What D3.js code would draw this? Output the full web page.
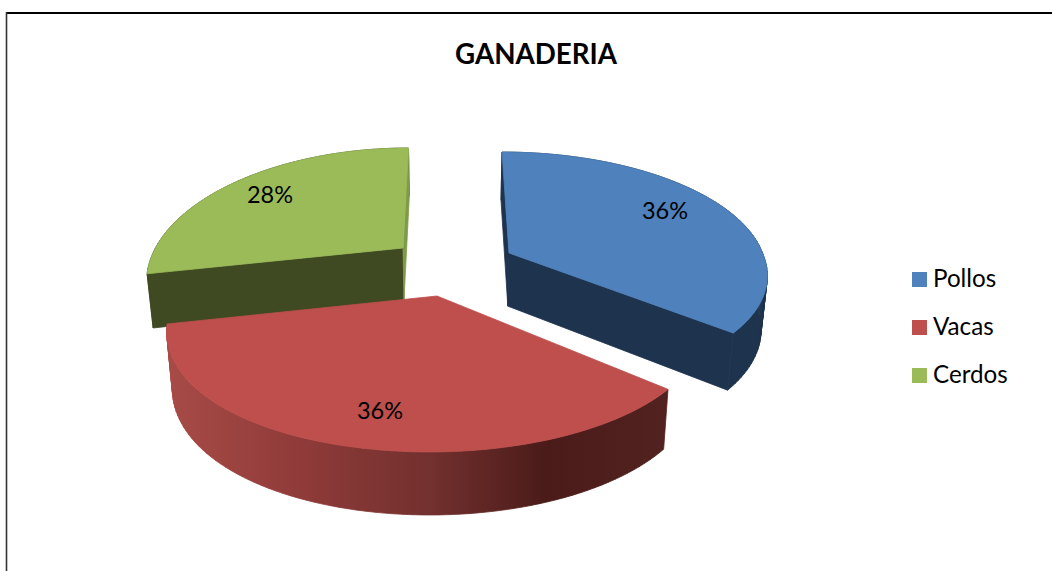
<!DOCTYPE html>
<html>
<head>
<meta charset="utf-8">
<script src="https://d3js.org/d3.v7.min.js"></script>
<style>
  html, body { margin: 0; padding: 0; background: #fff; overflow: hidden; }
  text { font-family: Lato, "Open Sans", sans-serif; fill: #000; }
</style>
</head>
<body>
<div id="chart"></div>
<script>
var width = 1052;
var height = 571;

var categories = ["Pollos", "Vacas", "Cerdos"];
var values = [36, 36, 28];
var colors = ["#4f81bd", "#be4f4c", "#9bbb59"];

// how each exploded slice sits on the page (apex, perspective, skews)
var frames = [
  {ax: 509, ay: 253, A: 253.5, B: 114.7, p: 0.136, skewUp: 0.069, skewDown: 0.13, bow: 0,
   wall: "#1e334e", cutStart: "#1e334e", cutEnd: "#1e334e", lx: 665, ly: 211},
  {ax: 437, ay: 296, A: 262, B: 121, p: 0.224, skewUp: 0, skewDown: -0.05, bow: 0.00006,
   wall: "url(#redWall)", cutStart: null, cutEnd: null, lx: 380, ly: 411},
  {ax: 403, ay: 248, A: 248.5, B: 122, p: 0.22, skewUp: -0.055, skewDown: -0.055, bow: 0.00003,
   wall: "#3f4922", cutStart: "#3f4922", cutEnd: "#7f9a48", lx: 270, ly: 195}
];

var vanishX = 450;
var bottomScale = 0.98;
var depth = d3.scaleLinear().domain([250, 451]).range([53, 63]);

var svg = d3.select("#chart")
  .append("svg")
  .attr("width", width)
  .attr("height", height)
  .style("display", "block");

var grad = svg.append("defs").append("linearGradient")
  .attr("id", "redWall")
  .attr("gradientUnits", "userSpaceOnUse")
  .attr("x1", 166).attr("x2", 667).attr("y1", 0).attr("y2", 0);

[[0, "#a84b47"], [0.27, "#8f3b39"], [0.53, "#72302e"], [0.76, "#4a1b19"], [1, "#522220"]].forEach(function(s) {
  grad.append("stop").attr("offset", s[0]).attr("stop-color", s[1]);
});

// chart frame, open at the bottom and right like the cropped original
svg.append("line").attr("x1", 6).attr("x2", 1052).attr("y1", 13).attr("y2", 13)
  .attr("stroke", "#000").attr("stroke-width", 2);
svg.append("line").attr("x1", 6.5).attr("x2", 6.5).attr("y1", 12).attr("y2", 571)
  .attr("stroke", "#333").attr("stroke-width", 1.6);

svg.append("text")
  .attr("x", 536)
  .attr("y", 64)
  .style("text-anchor", "middle")
  .style("font-size", "27.7px")
  .style("font-weight", "bold")
  .text("GANADERIA");

var pie = d3.pie().sort(null);
var arcs = pie(values);
var line = d3.line();

function rimPoint(f, angle) {
  var w = 1 + f.p * Math.cos(angle);
  var dx = f.A * Math.sin(angle) / w;
  var dy = -f.B * Math.cos(angle) / w;
  var skew = dy < 0 ? f.skewUp : f.skewDown;
  return [f.ax + dx + skew * dy, f.ay + dy + f.bow * dx * dx];
}

function lower(pt) {
  return [vanishX + (pt[0] - vanishX) * bottomScale, pt[1] + depth(pt[1])];
}

function rim(f, a0, a1) {
  return d3.range(0, 81).map(function(i) {
    return rimPoint(f, a0 + (a1 - a0) * i / 80);
  });
}

function facePath(d, fill) {
  g.append("path")
    .attr("d", d)
    .attr("fill", fill)
    .attr("stroke", fill)
    .attr("stroke-width", 0.8)
    .attr("stroke-linejoin", "round");
}

function face(pts, fill) {
  facePath(line(pts) + "Z", fill);
}

var g = svg.append("g");

// painted back to front: green, blue, red
[2, 0, 1].forEach(function(i) {
  var f = frames[i];
  var a = arcs[i];
  var top = rim(f, a.startAngle, a.endAngle);
  var apex = [f.ax, f.ay];
  var first = top[0];
  var last = top[top.length - 1];

  // the outer wall is one path of strips, so the silhouette stays convex with no seams
  var strips = d3.pairs(top).map(function(p) {
    return line([p[0], p[1], lower(p[1]), lower(p[0])]) + "Z";
  });
  facePath(strips.join(""), f.wall);

  if (f.cutStart) face([apex, first, lower(first), lower(apex)], f.cutStart);
  if (f.cutEnd) face([apex, last, lower(last), lower(apex)], f.cutEnd);
  face([apex].concat(top), colors[i]);
});

svg.selectAll(".pct")
  .data(values)
  .enter()
  .append("text")
  .attr("class", "pct")
  .attr("x", function(d, i) { return frames[i].lx; })
  .attr("y", function(d, i) { return frames[i].ly + 8; })
  .style("text-anchor", "middle")
  .style("font-size", "23.5px")
  .text(function(d) { return d + "%"; });

var legendY = d3.scalePoint().domain(categories).range([279.5, 375.5]);

svg.selectAll(".swatch")
  .data(categories)
  .enter()
  .append("rect")
  .attr("class", "swatch")
  .attr("x", 912)
  .attr("y", function(d) { return legendY(d) - 7.5; })
  .attr("width", 15)
  .attr("height", 15)
  .attr("fill", function(d, i) { return colors[i]; });

svg.selectAll(".legendText")
  .data(categories)
  .enter()
  .append("text")
  .attr("class", "legendText")
  .attr("x", 933)
  .attr("y", function(d) { return legendY(d) + 7; })
  .style("font-size", "24.2px")
  .text(function(d) { return d; });
</script>
</body>
</html>
